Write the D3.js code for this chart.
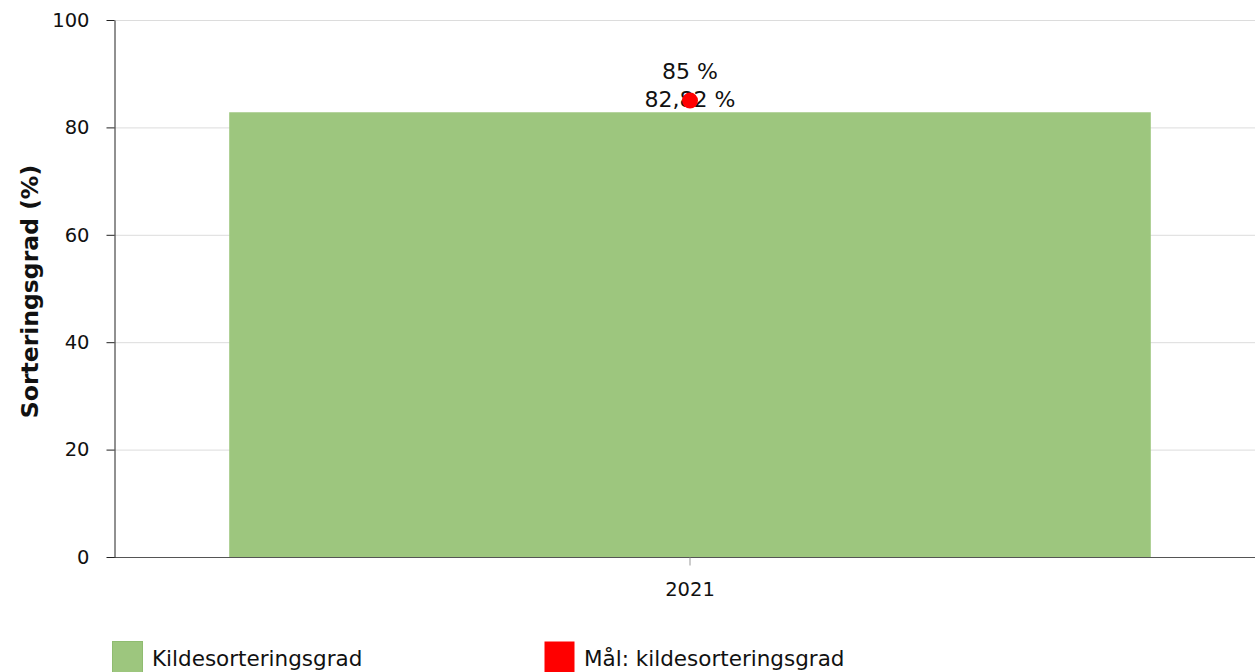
<!DOCTYPE html>
<html><head><meta charset="utf-8">
<script src="https://cdn.jsdelivr.net/npm/d3@7"></script>
<style>body{margin:0;background:#fff}svg{display:block;font-family:"DejaVu Sans",Verdana,sans-serif}</style>
</head><body>
<svg id="c" width="1255" height="672"></svg>
<script>
const categories = ["2021"];
const sortValues = [82.82];
const targetValues = [85];
const valueLabels = ["82,82 %"];
const targetLabels = ["85 %"];
const yTicks = [0, 20, 40, 60, 80, 100];
const seriesNames = ["Kildesorteringsgrad", "Mål: kildesorteringsgrad"];
const seriesColors = ["#9dc67e", "#ff0000"];

const svg = d3.select("#c");
const mLeft = 114, mRight = 1266, mTop = 20, mBottom = 557;
const x = d3.scaleBand().domain(categories).range([mLeft, mRight]).paddingInner(0.2).paddingOuter(0.1);
const y = d3.scaleLinear().domain([0, 100]).range([mBottom, mTop]);
const FONT = "DejaVu Sans, Verdana, sans-serif";

// gridlines
svg.append("g").selectAll("line").data(yTicks.filter(d => d > 0)).join("line")
  .attr("x1", mLeft).attr("x2", 1255).attr("y1", d => y(d) + 0.5).attr("y2", d => y(d) + 0.5)
  .attr("stroke", "#dcdcdc").attr("stroke-width", 1);

// bars
svg.append("g").selectAll("rect").data(categories).join("rect")
  .attr("x", d => x(d)).attr("width", x.bandwidth())
  .attr("y", (d, i) => y(sortValues[i])).attr("height", (d, i) => y(0) - y(sortValues[i]))
  .attr("fill", seriesColors[0]);

// x axis
const xa = svg.append("g").attr("transform", `translate(0,${mBottom + 0.5})`)
  .call(d3.axisBottom(x).tickSize(8).tickPadding(17).tickSizeOuter(0));
xa.select(".domain").attr("stroke", "#555").attr("d", `M${mLeft},0H1255`);
xa.selectAll(".tick line").attr("stroke", "#999");
xa.selectAll("text").attr("font-size", 19.5).attr("fill", "#111").attr("font-family", FONT);

// y axis
const ya = svg.append("g").attr("transform", `translate(${mLeft + 0.5},0)`)
  .call(d3.axisLeft(y).tickValues(yTicks).tickSize(8).tickPadding(17).tickSizeOuter(0));
ya.select(".domain").attr("stroke", "#222");
ya.selectAll(".tick line").attr("stroke", "#222");
ya.selectAll("text").attr("font-size", 19.5).attr("fill", "#111").attr("font-family", FONT);

// y title
svg.append("text").attr("transform", `translate(30,${(mTop + mBottom) / 2 + 3}) rotate(-90)`)
  .attr("text-anchor", "middle").attr("dy", "0.35em").attr("font-size", 23.5).attr("font-weight", "bold").attr("fill", "#111")
  .text("Sorteringsgrad (%)");

// value labels
svg.append("g").selectAll("text").data(categories).join("text")
  .attr("x", d => x(d) + x.bandwidth() / 2).attr("y", (d, i) => y(sortValues[i]) - 5)
  .attr("text-anchor", "middle").attr("font-size", 22).attr("fill", "#111")
  .text((d, i) => valueLabels[i]);

// target points
svg.append("g").selectAll("circle").data(categories).join("circle")
  .attr("cx", d => x(d) + x.bandwidth() / 2).attr("cy", (d, i) => y(targetValues[i]))
  .attr("r", 8).attr("fill", seriesColors[1]);
svg.append("g").selectAll("text").data(categories).join("text")
  .attr("x", d => x(d) + x.bandwidth() / 2).attr("y", (d, i) => y(targetValues[i]) - 22)
  .attr("text-anchor", "middle").attr("font-size", 22).attr("fill", "#111")
  .text((d, i) => targetLabels[i]);

// legend
const lg = svg.append("g");
const lx = [112, 544];
seriesNames.forEach((n, i) => {
  lg.append("rect").attr("x", lx[i] + 0.5).attr("y", 641.5).attr("width", 30).attr("height", 31)
    .attr("fill", seriesColors[i]).attr("stroke", i === 0 ? "#8fbc70" : "none");
  lg.append("text").attr("x", lx[i] + 40).attr("y", 666).attr("font-size", 21.5).attr("fill", "#111").text(n);
});
</script>
</body></html>
